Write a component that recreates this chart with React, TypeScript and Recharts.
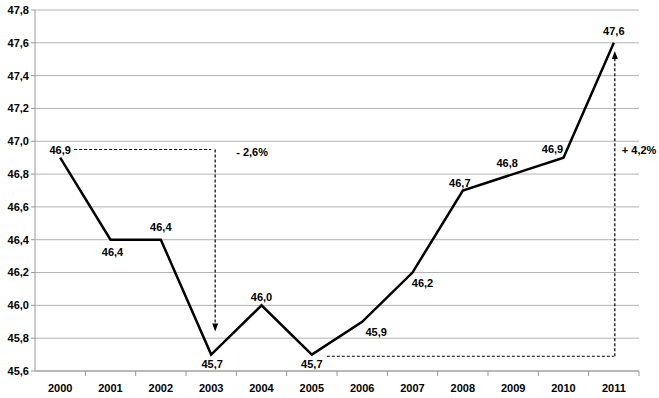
import { LineChart, Line, XAxis, YAxis, CartesianGrid, ReferenceLine, ReferenceDot } from "recharts";

const years = ["2000", "2001", "2002", "2003", "2004", "2005", "2006", "2007", "2008", "2009", "2010", "2011"];
const values = [46.9, 46.4, 46.4, 45.7, 46.0, 45.7, 45.9, 46.2, 46.7, 46.8, 46.9, 47.6];
const yTicks = [45.6, 45.8, 46.0, 46.2, 46.4, 46.6, 46.8, 47.0, 47.2, 47.4, 47.6, 47.8];

// annotation levels
const dropTop = 46.95;
const dropTip = 45.84;
const riseBase = 45.69;
const riseTip = 47.55;

const data = years.map((year, i) => ({ year, value: values[i] }));

// where each data label sits relative to its point
const labelOffset: [number, number][] = [
  [0, -8], [2, 12], [0, -13], [1, 9], [0, -8], [0, 9],
  [14, 10], [10, 10], [-3, -8], [-6, -11], [-11, -9], [0, -12],
];

const W = 659;
const H = 398;
const BAND = (639 - 35) / years.length;
const fmt = (v: number) => v.toFixed(1).replace(".", ",");
const font = "'Liberation Sans', Arial, sans-serif";

const XTick = (props: any) => {
  const { x, y, payload, index } = props;
  const bx = x - BAND / 2;
  return (
    <g>
      {index > 0 && <line x1={bx} y1={y - 5} x2={bx} y2={y} stroke="#999" />}
      {index === years.length - 1 && <line x1={x + BAND / 2} y1={y - 5} x2={x + BAND / 2} y2={y} stroke="#999" />}
      <text x={x} y={y + 16} textAnchor="middle" fontSize={11} fontWeight="bold" fill="#000" fontFamily={font}>
        {payload.value}
      </text>
    </g>
  );
};

const PointLabel = (props: any) => {
  const { x, y, value, index } = props;
  const [dx, dy] = labelOffset[index] ?? [0, -8];
  return (
    <text x={x + dx} y={y + dy + 4} textAnchor="middle" fontSize={11} fontWeight="bold" fill="#000" fontFamily={font}>
      {fmt(value)}
    </text>
  );
};

const dashed = { stroke: "#000", strokeWidth: 1.2, strokeDasharray: "3 2", fill: "none" };

const hLine = (startShift: number) => (p: any) => (
  <line x1={p.x1 + startShift} y1={p.y1} x2={p.x2} y2={p.y2} {...dashed} />
);

const vArrow = (shift: number) => (p: any) => {
  const x = p.x1 + shift;
  const dir = p.y2 > p.y1 ? 1 : -1;
  const tip = p.y2;
  return (
    <g>
      <line x1={x} y1={p.y1} x2={x} y2={tip - dir * 6} {...dashed} />
      <polygon points={`${x - 3},${tip - dir * 8} ${x + 3},${tip - dir * 8} ${x},${tip}`} fill="#000" />
    </g>
  );
};

const note = (text: string, dx: number, dy: number) => (p: any) => (
  <text x={p.cx + dx} y={p.cy + dy} fontSize={11} fontWeight="bold" fill="#000" fontFamily={font}>
    {text}
  </text>
);

export default function App() {
  return (
    <div style={{ position: "absolute", left: 0, top: 0, background: "#fff" }}>
      <LineChart width={W} height={H} data={data} margin={{ top: 10, right: 20, left: 0, bottom: 0 }}>
        <CartesianGrid vertical={false} stroke="#b3b3b3" />
        <XAxis
          dataKey="year"
          height={27}
          padding={{ left: BAND / 2, right: BAND / 2 }}
          tickLine={false}
          tickSize={5}
          tickMargin={0}
          axisLine={{ stroke: "#999" }}
          tick={<XTick />}
          interval={0}
        />
        <YAxis
          width={35}
          domain={[45.6, 47.8]}
          ticks={yTicks}
          tickSize={4}
          tickLine={{ stroke: "#999" }}
          axisLine={{ stroke: "#999" }}
          tickFormatter={fmt}
          tick={{ fontSize: 11, fontWeight: "bold", fill: "#000", fontFamily: font }}
          interval={0}
        />
        <ReferenceLine segment={[{ x: "2000", y: dropTop }, { x: "2003", y: dropTop }]} shape={hLine(14)} />
        <ReferenceLine segment={[{ x: "2003", y: dropTop }, { x: "2003", y: dropTip }]} shape={vArrow(4)} />
        <ReferenceLine segment={[{ x: "2005", y: riseBase }, { x: "2011", y: riseBase }]} shape={hLine(15)} />
        <ReferenceLine segment={[{ x: "2011", y: riseBase }, { x: "2011", y: riseTip }]} shape={vArrow(1)} />
        <ReferenceDot x="2003" y={dropTop} r={0} shape={note("- 2,6%", 25, 7)} />
        <ReferenceDot x="2011" y={dropTop} r={0} shape={note("+ 4,2%", 8, 5)} />
        <Line
          type="linear"
          dataKey="value"
          stroke="#000"
          strokeWidth={2.5}
          dot={false}
          activeDot={false}
          label={<PointLabel />}
          isAnimationActive={false}
        />
      </LineChart>
    </div>
  );
}
